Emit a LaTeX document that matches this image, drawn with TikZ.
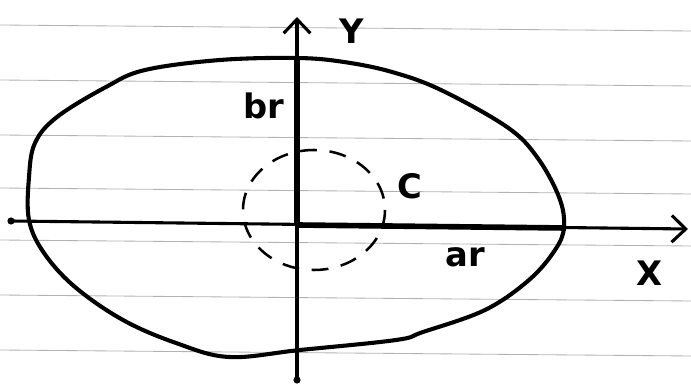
\documentclass[tikz,border=0pt]{standalone}
\usepackage{fontspec}
\setmainfont{DejaVu Sans}
\usetikzlibrary{arrows.meta}

\begin{document}
\begin{tikzpicture}[
  x=0.025cm, y=-0.025cm,
  ruled/.style={draw=black!30, line width=0.6pt},
  axis/.style={-{Straight Barb[length=10pt, width=19pt, line width=2.2pt]}, line width=2.2pt},
  axisend/.style={fill=black, circle, inner sep=1.8pt},
  radius/.style={line width=4pt},
  curve/.style={line width=2.9pt, line join=round},
  circ/.style={line width=1.8pt, dash pattern=on 12pt off 9pt},
  lbl/.style={font=\fontsize{24}{24}\selectfont\bfseries, inner sep=0pt}
]
\useasboundingbox (0,0) rectangle (691,386);
% paper lines
\foreach \ly in {25,80,135,188,240,295,350}
  \draw[ruled] (0,\ly) -- (691,\ly+6);

\coordinate (o) at (297,225);
\coordinate (xl) at (11,221);
\coordinate (xr) at (688,229);
\coordinate (yb) at (297,380);
\coordinate (yt) at (297,17);
\coordinate (atip) at (566,228);
\coordinate (btip) at (297,58);

% the egg
\draw[curve] plot[smooth cycle, tension=0.6] coordinates {
  (297,58) (344,62) (392,72) (441,90) (507,127) (537,157) (559,197)
  (564,227) (555,250) (529,280) (485,310) (423,332) (396,340)
  (300,350) (229,357) (176,343) (123,320) (75,287) (44,253)
  (29,220) (29,177) (35,143) (57,117) (106,87) (145,70) (220,60)};

\draw[circ] (314,210) ellipse [x radius=71, y radius=60];

\draw[axis] (xl) -- (xr);
\draw[axis] (yb) -- (yt);
\node[axisend] at (xl) {};
\node[axisend] at (yb) {};
\draw[radius] (o) -- (atip);
\draw[radius] (o) -- (btip);

\node[lbl] (ylbl) at (352,31) {Y};
\node[lbl] (xlbl) at (650,273) {X};
\node[lbl] (br) at (264,106) {br};
\node[lbl] (ar) at (465,257) {ar};
\node[lbl] (c) at (410,186) {C};
\end{tikzpicture}
\end{document}
